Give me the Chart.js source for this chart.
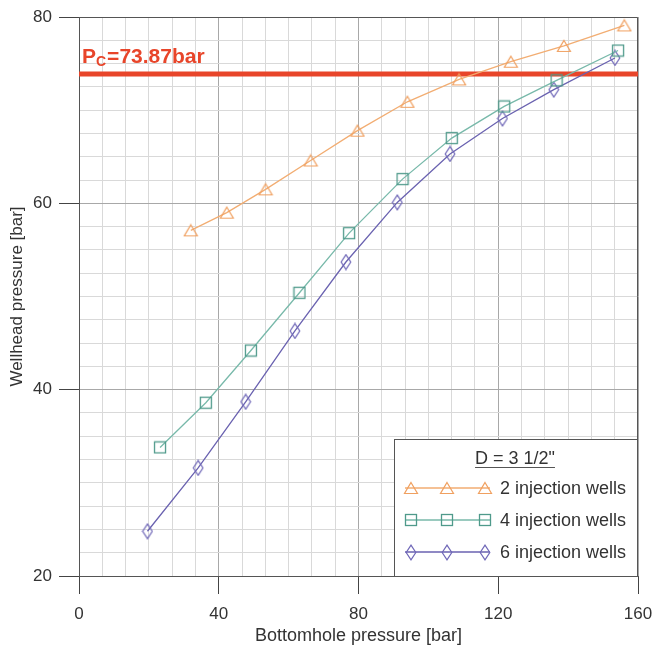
<!DOCTYPE html>
<html><head><meta charset="utf-8">
<script src="https://cdn.jsdelivr.net/npm/chart.js@4/dist/chart.umd.min.js"></script>
<style>html,body{margin:0;padding:0;background:#fff}#wrap{width:653px;height:647px}</style>
</head><body><div id="wrap"><canvas id="c" width="653" height="647"></canvas></div>
<script>
// ---- data ----
const X_TICKS = [0, 40, 80, 120, 160];
const Y_TICKS = [20, 40, 60, 80];
const X_MINOR_PER_MAJOR = 6;
const Y_MINOR_PER_MAJOR = 8;
const PC = 73.87;
const PC_LABEL_MAIN = 'P';
const PC_LABEL_SUB = 'C';
const PC_LABEL_REST = '=73.87bar';
const SERIES_NAMES = ['2 injection wells', '4 injection wells', '6 injection wells'];
const LEGEND_TITLE = 'D = 3 1/2"';
const X_TITLE = 'Bottomhole pressure [bar]';
const Y_TITLE = 'Wellhead pressure [bar]';

const wells2_x = [32.0, 42.3, 53.4, 66.3, 79.7, 94.0, 108.8, 123.6, 138.8, 156.1];
const wells2_y = [57.1, 59.0, 61.5, 64.6, 67.8, 70.9, 73.3, 75.2, 76.9, 79.1];
const wells4_x = [23.2, 36.3, 49.2, 63.1, 77.3, 92.6, 106.7, 121.7, 136.7, 154.3];
const wells4_y = [33.8, 38.6, 44.2, 50.4, 56.8, 62.6, 67.0, 70.4, 73.2, 76.4];
const wells6_x = [19.6, 34.1, 47.7, 61.8, 76.4, 91.1, 106.2, 121.2, 135.9, 153.4];
const wells6_y = [24.8, 31.6, 38.7, 46.3, 53.7, 60.1, 65.3, 69.1, 72.2, 75.6];

// ---- styles ----
const FONT = "'Liberation Sans', Arial, Helvetica, sans-serif";
const TXT = '#333333';
const COL_ORANGE = '#f0a060', LINE_ORANGE = '#f2ad72';
const COL_TEAL = '#4f9a8b', LINE_TEAL = '#78b9aa';
const COL_PURPLE = '#7068b8', LINE_PURPLE = '#6a62b0';
const COL_RED = '#e8452a';

function mk(w, h, draw) {
  const c = document.createElement('canvas'); c.width = w; c.height = h;
  const g = c.getContext('2d'); draw(g); return c;
}
function triIcon(col) {
  return mk(16, 14, g => { g.strokeStyle = col; g.lineWidth = 1.2; g.beginPath();
    g.moveTo(8, 1.5); g.lineTo(14.5, 12.5); g.lineTo(1.5, 12.5); g.closePath(); g.stroke(); });
}
function sqIcon(col) {
  return mk(14, 14, g => { g.strokeStyle = col; g.lineWidth = 1.3; g.strokeRect(1.5, 1.5, 11, 11); });
}
function diaIcon(col) {
  return mk(12, 17, g => { g.strokeStyle = col; g.lineWidth = 1.2; g.beginPath();
    g.moveTo(6, 1.2); g.lineTo(10.8, 8.5); g.lineTo(6, 15.8); g.lineTo(1.2, 8.5); g.closePath(); g.stroke(); });
}
const ICONS = [triIcon(COL_ORANGE), sqIcon(COL_TEAL), diaIcon(COL_PURPLE)];
const LINECOLS = [LINE_ORANGE, LINE_TEAL, LINE_PURPLE];

const pts = (xs, ys) => xs.map((x, i) => ({x, y: ys[i]}));
const near = (v, arr) => arr.some(a => Math.abs(a - v) < 1e-6);
function subTicks(major, per) {
  const out = [];
  for (let i = 0; i < major.length - 1; i++) {
    const a = major[i], b = major[i + 1];
    for (let k = 0; k < per; k++) out.push({value: a + (b - a) * k / per});
  }
  out.push({value: major[major.length - 1]});
  return out;
}

const seriesDs = [[wells2_x, wells2_y], [wells4_x, wells4_y], [wells6_x, wells6_y]].map((s, i) => ({
  label: SERIES_NAMES[i], data: pts(s[0], s[1]), borderColor: LINECOLS[i], borderWidth: 1.3,
  pointStyle: ICONS[i], pointRadius: 6, showLine: true, fill: false, tension: 0
}));
const pcDs = {label: 'Pc', data: [{x: X_TICKS[0], y: PC}, {x: X_TICKS[X_TICKS.length - 1], y: PC}],
  borderColor: COL_RED, borderWidth: 5, pointRadius: 0, showLine: true, fill: false};

const framePlugin = {
  id: 'frame',
  beforeDatasetsDraw(chart) {
    const {ctx, chartArea: a} = chart;
    ctx.save(); ctx.strokeStyle = '#555'; ctx.lineWidth = 1;
    ctx.beginPath(); ctx.moveTo(a.left, a.top + 0.5); ctx.lineTo(a.right - 0.5, a.top + 0.5);
    ctx.lineTo(a.right - 0.5, a.bottom); ctx.stroke(); ctx.restore();
  },
  afterDatasetsDraw(chart) {
    const {ctx, scales} = chart;
    const x = scales.x.getPixelForValue(X_TICKS[0]) + 3;
    const y = scales.y.getPixelForValue(PC) - 11;
    ctx.save(); ctx.fillStyle = COL_RED; ctx.textBaseline = 'alphabetic'; ctx.textAlign = 'left';
    ctx.font = 'bold 21px ' + FONT; ctx.fillText(PC_LABEL_MAIN, x, y);
    let w = ctx.measureText(PC_LABEL_MAIN).width;
    ctx.font = 'bold 14px ' + FONT; ctx.fillText(PC_LABEL_SUB, x + w, y + 3);
    w += ctx.measureText(PC_LABEL_SUB).width + 1;
    ctx.font = 'bold 21px ' + FONT; ctx.fillText(PC_LABEL_REST, x + w, y);
    ctx.restore();
  },
  afterDraw(chart) {
    const {ctx, chartArea: a} = chart;
    const L = a.right - 244, T = a.bottom - 137, R = a.right - 1, B = a.bottom;
    ctx.save();
    ctx.fillStyle = '#fff'; ctx.fillRect(L, T, R - L, B - T);
    ctx.strokeStyle = '#555'; ctx.lineWidth = 1; ctx.strokeRect(L + 0.5, T + 0.5, R - L, B - T);
    ctx.fillStyle = TXT; ctx.font = '18px ' + FONT; ctx.textAlign = 'center'; ctx.textBaseline = 'alphabetic';
    const cx = L + 121;
    ctx.fillText(LEGEND_TITLE, cx, T + 25);
    const tw = ctx.measureText(LEGEND_TITLE).width;
    ctx.strokeStyle = '#555'; ctx.lineWidth = 1.2;
    ctx.beginPath(); ctx.moveTo(cx - tw / 2, T + 28.5); ctx.lineTo(cx + tw / 2, T + 28.5); ctx.stroke();
    ctx.textAlign = 'left'; ctx.textBaseline = 'middle';
    for (let i = 0; i < 3; i++) {
      const yy = T + 49 + i * 32;
      ctx.strokeStyle = LINECOLS[i]; ctx.lineWidth = 1.3;
      ctx.beginPath(); ctx.moveTo(L + 11, yy); ctx.lineTo(L + 96, yy); ctx.stroke();
      const ic = ICONS[i];
      [L + 17, L + 53, L + 91].forEach(px => ctx.drawImage(ic, Math.round(px - ic.width / 2), Math.round(yy - ic.height / 2)));
      ctx.fillStyle = TXT; ctx.fillText(SERIES_NAMES[i], L + 106, yy + 1);
    }
    ctx.restore();
  }
};

new Chart(document.getElementById('c'), {
  type: 'scatter',
  data: {datasets: [...seriesDs, pcDs]},
  options: {
    responsive: false, animation: false, devicePixelRatio: 1,
    layout: {padding: {left: 0, top: 17, right: 15, bottom: 0}},
    plugins: {legend: {display: false}, tooltip: {enabled: false}},
    scales: {
      x: {
        type: 'linear', min: X_TICKS[0], max: X_TICKS[X_TICKS.length - 1],
        afterBuildTicks(s) { s.ticks = subTicks(X_TICKS, X_MINOR_PER_MAJOR); },
        afterFit(s) { s.height = 71; s.paddingLeft = 0; s.paddingRight = 0; },
        ticks: {autoSkip: false, maxRotation: 0, padding: 10, color: TXT, font: {family: FONT, size: 17},
          callback: v => near(v, X_TICKS) ? String(Math.round(v)) : ''},
        grid: {color: c => near(c.tick.value, X_TICKS) ? '#a8a8a8' : '#d9d9d9', lineWidth: 1,
          tickLength: 18, tickColor: c => near(c.tick.value, X_TICKS) ? '#444' : 'rgba(0,0,0,0)'},
        border: {color: '#555', width: 1},
        title: {display: true, text: X_TITLE, color: TXT, font: {family: FONT, size: 18}, padding: {top: 0, bottom: 0}}
      },
      y: {
        type: 'linear', min: Y_TICKS[0], max: Y_TICKS[Y_TICKS.length - 1],
        afterBuildTicks(s) { s.ticks = subTicks(Y_TICKS, Y_MINOR_PER_MAJOR); },
        afterFit(s) { s.width = 79; s.paddingTop = 0; s.paddingBottom = 0; },
        ticks: {autoSkip: false, padding: 7, color: TXT, font: {family: FONT, size: 17},
          callback: v => near(v, Y_TICKS) ? String(Math.round(v)) : ''},
        grid: {color: c => near(c.tick.value, Y_TICKS) ? '#a8a8a8' : '#d9d9d9', lineWidth: 1,
          tickLength: 20, tickColor: c => near(c.tick.value, Y_TICKS) ? '#444' : 'rgba(0,0,0,0)'},
        border: {color: '#555', width: 1},
        title: {display: true, text: Y_TITLE, color: TXT, font: {family: FONT, size: 17}, padding: {top: 7, bottom: 0}}
      }
    }
  },
  plugins: [framePlugin]
});
</script></body></html>
